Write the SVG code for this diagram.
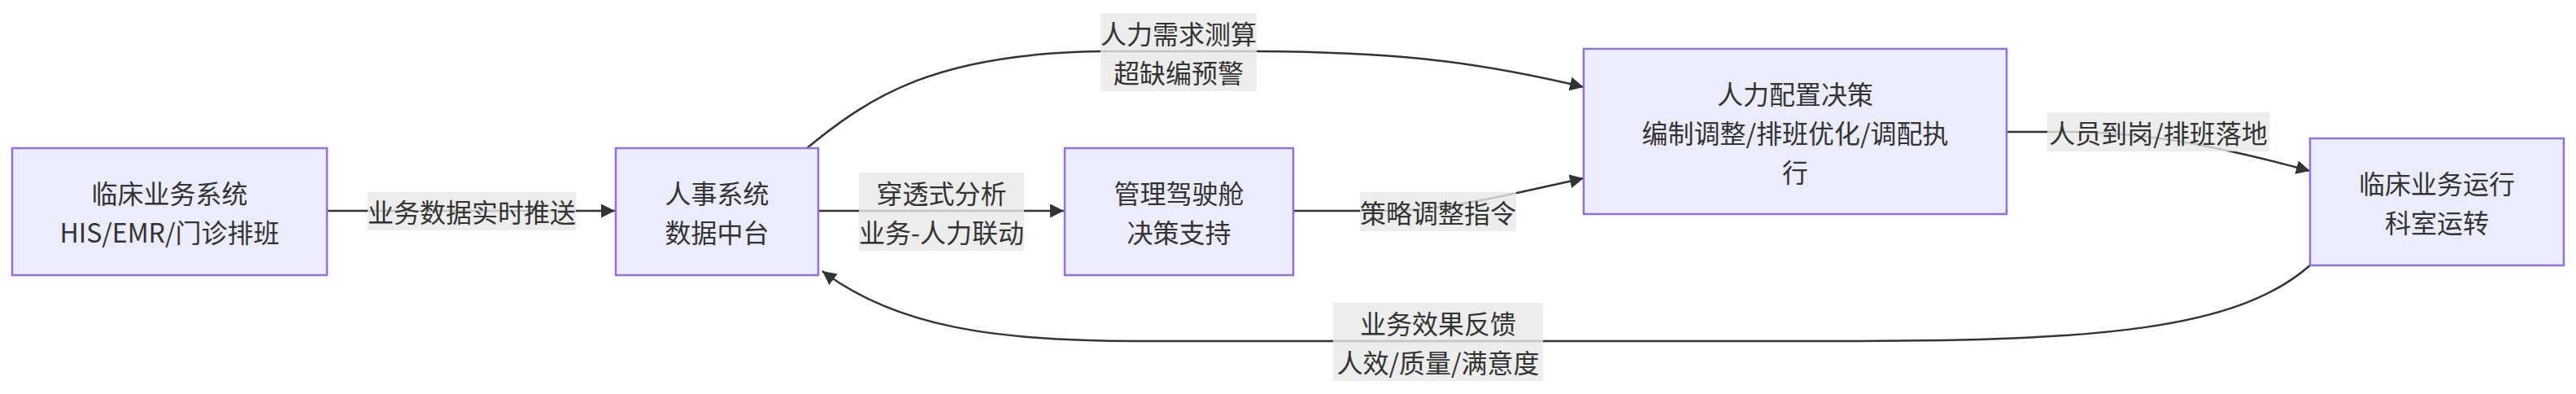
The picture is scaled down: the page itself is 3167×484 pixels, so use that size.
<svg xmlns="http://www.w3.org/2000/svg" width="3167" height="484" viewBox="0 0 3167 484">
<style>
.node rect{fill:#ECECFF;stroke:#9370DB;stroke-width:2.5}
.t{font-family:"Noto Sans CJK SC","DejaVu Sans",sans-serif;font-size:32px;fill:#333;text-anchor:middle;dominant-baseline:central}
.edge{fill:none;stroke:#333;stroke-width:2.5}
.lbl rect{fill:rgba(232,232,232,0.8)}
</style>
<defs>
<marker id="arr" viewBox="0 0 10 10" refX="10" refY="5" markerUnits="userSpaceOnUse" markerWidth="17" markerHeight="17" orient="auto">
<path d="M0,0 L10,5 L0,10 z" fill="#333"/>
</marker>
</defs>
<g id="edges">
<path class="edge" d="M402,259 L756,259" marker-end="url(#arr)"/>
<path class="edge" d="M1006,259 L1308,259" marker-end="url(#arr)"/>
<path class="edge" d="M992,182 C1070,118 1150,66 1353,63 L1545,63 C1700,64 1800,72 1947,107" marker-end="url(#arr)"/>
<path class="edge" d="M1590,259 L1700,259 C1780,259 1850,240 1947,219" marker-end="url(#arr)"/>
<path class="edge" d="M2467,162 L2540,162 C2620,162 2700,172 2840,210" marker-end="url(#arr)"/>
<path class="edge" d="M2840,326 C2750,405 2580,419 2263,419 L1396,419 C1220,419 1100,400 1011,333" marker-end="url(#arr)"/>
</g>
<g id="edge-labels">
<g class="lbl" id="label-push"><rect x="452" y="236" width="256" height="47"/><text class="t" x="580" y="259">业务数据实时推送</text></g>
<g class="lbl" id="label-analysis"><rect x="1056" y="212" width="203" height="96"/><text class="t" x="1157.5" y="236">穿透式分析</text><text class="t" x="1157.5" y="284">业务-人力联动</text></g>
<g class="lbl" id="label-demand"><rect x="1353" y="16" width="192" height="96"/><text class="t" x="1449" y="40">人力需求测算</text><text class="t" x="1449" y="88">超缺编预警</text></g>
<g class="lbl" id="label-strategy"><rect x="1672" y="236" width="192" height="48"/><text class="t" x="1768" y="260">策略调整指令</text></g>
<g class="lbl" id="label-staff"><rect x="2517" y="138" width="273" height="48"/><text class="t" x="2653.5" y="162">人员到岗/排班落地</text></g>
<g class="lbl" id="label-feedback"><rect x="1639" y="372" width="258" height="96"/><text class="t" x="1768" y="396">业务效果反馈</text><text class="t" x="1768" y="444">人效/质量/满意度</text></g>
</g>
<g class="node" id="A"><rect x="15" y="182" width="387" height="156"/><text class="t" x="208.5" y="236">临床业务系统</text><text class="t" x="208.5" y="284">HIS/EMR/门诊排班</text></g>
<g class="node" id="B"><rect x="757" y="182" width="249" height="156"/><text class="t" x="881.5" y="236">人事系统</text><text class="t" x="881.5" y="284">数据中台</text></g>
<g class="node" id="C"><rect x="1309" y="182" width="281" height="156"/><text class="t" x="1449.5" y="236">管理驾驶舱</text><text class="t" x="1449.5" y="284">决策支持</text></g>
<g class="node" id="D"><rect x="1947" y="60" width="520" height="203"/><text class="t" x="2207" y="114">人力配置决策</text><text class="t" x="2207" y="162">编制调整/排班优化/调配执</text><text class="t" x="2207" y="210">行</text></g>
<g class="node" id="E"><rect x="2840" y="170" width="312" height="156"/><text class="t" x="2996" y="224">临床业务运行</text><text class="t" x="2996" y="272">科室运转</text></g>
</svg>
